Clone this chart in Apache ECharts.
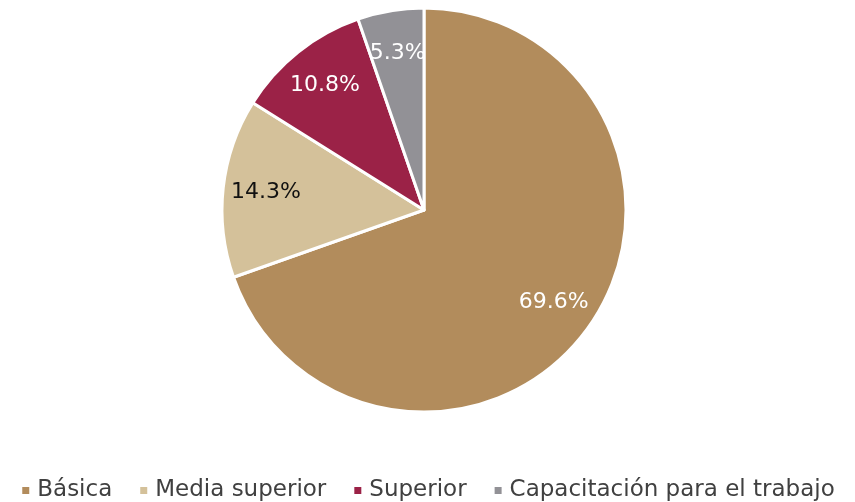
<!DOCTYPE html>
<html>
<head>
<meta charset="utf-8">
<script src="https://cdn.jsdelivr.net/npm/echarts@6/dist/echarts.min.js"></script>
<style>
  html, body { margin: 0; padding: 0; background: #fff; }
  #chart { width: 855px; height: 502px; }
</style>
</head>
<body>
<div id="chart"></div>
<script>
const categories = ['Básica', 'Media superior', 'Superior', 'Capacitación para el trabajo']
const values = [69.6, 14.3, 10.8, 5.3]
const colors = ['#B28C5C', '#D4C19A', '#9B2247', '#929196']
const labelColors = ['#fff', '#111', '#fff', '#fff']

const font = 'DejaVu Sans'
let myChart = echarts.init(document.getElementById('chart'))

let pieData = categories.map((name, i) => ({
  name: name,
  value: values[i],
  itemStyle: { color: colors[i] }
}))

let labelData = categories.map((name, i) => ({
  name: name,
  value: values[i],
  label: { color: labelColors[i] }
}))

let option = {
  animation: false,
  color: colors,
  legend: {
    top: 474,
    left: 'center',
    itemWidth: 9,
    itemHeight: 9,
    itemGap: 26,
    icon: 'rect',
    textStyle: { fontFamily: font, fontSize: 23, color: '#404040', padding: [0, 0, 0, 2] },
    data: categories
  },
  series: [
    {
      type: 'pie',
      center: [424, 210],
      radius: [0, 202],
      startAngle: 90,
      clockwise: true,
      label: { show: false },
      labelLine: { show: false },
      itemStyle: { borderColor: '#fff', borderWidth: 3 },
      data: pieData
    },
    {
      type: 'pie',
      center: [424, 210],
      radius: [110, 202],
      startAngle: 90,
      clockwise: true,
      silent: true,
      itemStyle: { color: 'rgba(0,0,0,0)' },
      label: {
        show: true,
        position: 'inside',
        fontFamily: font,
        fontSize: 22,
        formatter: p => p.value.toFixed(1) + '%'
      },
      labelLine: { show: false },
      data: labelData
    }
  ]
}

myChart.setOption(option)
</script>
</body>
</html>
